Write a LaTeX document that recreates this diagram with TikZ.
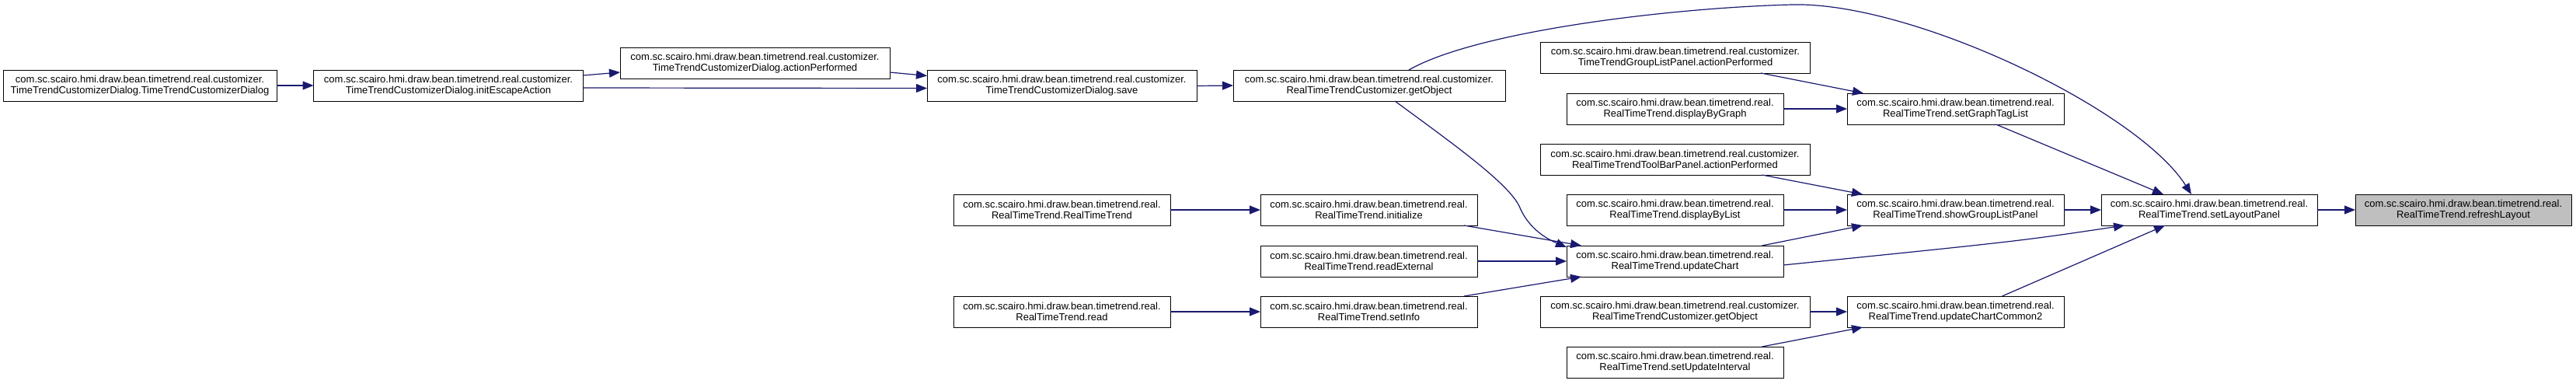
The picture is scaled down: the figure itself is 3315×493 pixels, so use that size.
\documentclass[tikz,border=0pt]{standalone}
\usepackage{fontspec}
\setmainfont{Liberation Sans}
\usetikzlibrary{arrows.meta,calc}
\definecolor{edgeblue}{HTML}{191970}
\definecolor{rootgrey}{HTML}{BFBFBF}
\newcommand{\pkgR}{com.sc.scairo.hmi.draw.bean.timetrend.real.}
\newcommand{\pkgC}{com.sc.scairo.hmi.draw.bean.timetrend.real.customizer.}
\tikzset{
  fnbox/.style={draw=black, line width=1pt, fill=white, rectangle, inner sep=0pt, outer sep=0pt,
    minimum height=40pt, align=center, font=\fontsize{13}{14}\selectfont},
  wide/.style={fnbox, minimum width=347pt},
  narrow/.style={fnbox, minimum width=279pt},
  rootbox/.style={narrow, fill=rootgrey},
  call/.style={draw=edgeblue, line width=1.2pt, -{Triangle[length=14pt,width=11pt]}, fill=none},
}
\begin{document}
\begin{tikzpicture}[x=1pt,y=-1pt]
\useasboundingbox[fill=white] (0,0) rectangle (3315,493);

\node[wide, minimum width=352pt] (A) at (180,110) {\pkgC\\TimeTrendCustomizerDialog.TimeTrendCustomizerDialog};
\node[wide] (B) at (577,110) {\pkgC\\TimeTrendCustomizerDialog.initEscapeAction};
\node[wide] (C) at (971.5,81) {\pkgC\\TimeTrendCustomizerDialog.actionPerformed};
\node[wide] (D) at (1366.5,110.5) {\pkgC\\TimeTrendCustomizerDialog.save};
\node[wide, minimum width=350pt] (E) at (1762,110) {\pkgC\\RealTimeTrendCustomizer.getObject};
\node[wide] (F) at (2156,74) {\pkgC\\TimeTrendGroupListPanel.actionPerformed};
\node[narrow] (G) at (2155.5,140) {\pkgR\\RealTimeTrend.displayByGraph};
\node[narrow] (H) at (2516.5,140) {\pkgR\\RealTimeTrend.setGraphTagList};
\node[wide] (I) at (2155.5,205) {\pkgC\\RealTimeTrendToolBarPanel.actionPerformed};
\node[narrow] (J) at (2155.5,270) {\pkgR\\RealTimeTrend.displayByList};
\node[narrow] (K) at (2155.5,336) {\pkgR\\RealTimeTrend.updateChart};
\node[wide] (L) at (2155.5,401) {\pkgC\\RealTimeTrendCustomizer.getObject};
\node[narrow] (M) at (2155.5,466) {\pkgR\\RealTimeTrend.setUpdateInterval};
\node[narrow] (N) at (2516.5,270) {\pkgR\\RealTimeTrend.showGroupListPanel};
\node[narrow] (O) at (2516.5,401) {\pkgR\\RealTimeTrend.updateChartCommon2};
\node[narrow, minimum width=278pt] (P) at (2843,270) {\pkgR\\RealTimeTrend.setLayoutPanel};
\node[rootbox, minimum width=278pt] (Q) at (3170,270) {\pkgR\\RealTimeTrend.refreshLayout};
\node[narrow] (R) at (1366.5,270) {\pkgR\\RealTimeTrend.RealTimeTrend};
\node[narrow] (S) at (1761.5,270) {\pkgR\\RealTimeTrend.initialize};
\node[narrow] (T) at (1761.5,336) {\pkgR\\RealTimeTrend.readExternal};
\node[narrow] (U) at (1366.5,401) {\pkgR\\RealTimeTrend.read};
\node[narrow] (V) at (1761.5,401) {\pkgR\\RealTimeTrend.setInfo};

\coordinate (peak) at (2306,6);
\coordinate (bendEK) at (1955,265);

\draw[call] (A.east) -- (B.west);
\draw[call] ([yshift=-7pt]B.north east) -- ([yshift=8pt]C.south west);
\draw[call] ([yshift=-3pt]B.east) -- ([yshift=-3pt]D.west);
\draw[call] ([yshift=-12pt]C.east) -- ([yshift=13pt]D.west);
\draw[call] (D.east) -- (E.west);
\draw[call] ([xshift=51pt]E.north) .. controls (1900,40) and (2150,10) .. (peak)
  .. controls (2460,2) and (2750,140) .. ([xshift=-23pt]P.north);
\draw[call] ([xshift=33pt]E.south) .. controls (1870,185) and (1940,235) .. (bendEK)
  .. controls (1965,290) and (1985,305) .. ([yshift=-2pt]K.north west);
\draw[call] ([xshift=110pt]F.south) -- ([xshift=21pt]H.north west);
\draw[call] (G.east) -- (H.west);
\draw[call] ([xshift=52pt]H.south) -- ([xshift=-59pt]P.north);
\draw[call] ([xshift=112pt]I.south) -- ([xshift=20pt]N.north west);
\draw[call] (J.east) -- (N.west);
\draw[call] ([xshift=112pt]K.north) -- ([xshift=20pt]N.south west);
\draw[call] ([yshift=-5pt]K.east) .. controls (2600,310) .. ([xshift=30pt]P.south west);
\draw[call] (L.east) -- (O.west);
\draw[call] ([xshift=112pt]M.north) -- ([xshift=20pt]O.south west);
\draw[call] (N.east) -- (P.west);
\draw[call] ([xshift=60pt]O.north) -- ([xshift=-57pt]P.south);
\draw[call] (P.east) -- (Q.west);
\draw[call] (R.east) -- (S.west);
\draw[call] ([xshift=-17pt]S.south east) -- ([xshift=19pt]K.north west);
\draw[call] (T.east) -- (K.west);
\draw[call] (U.east) -- (V.west);
\draw[call] ([xshift=-17pt]V.north east) -- ([xshift=19pt]K.south west);
\end{tikzpicture}
\end{document}
